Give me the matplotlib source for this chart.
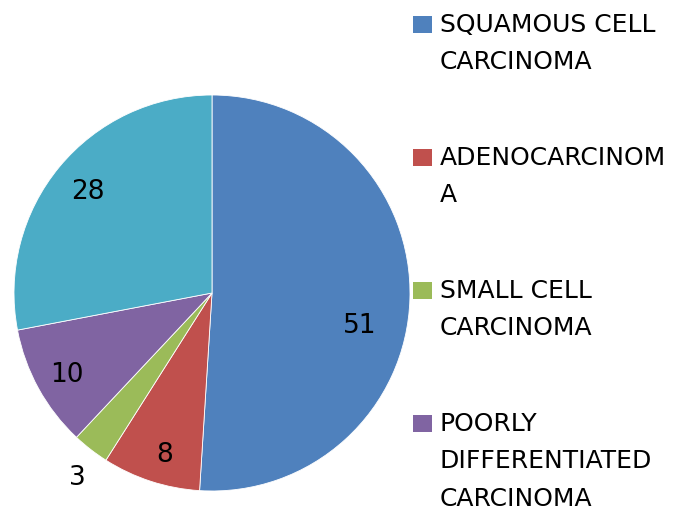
import matplotlib
matplotlib.use("Agg")
import matplotlib.pyplot as plt
from matplotlib.patches import Rectangle

categories = [
	"SQUAMOUS CELL\nCARCINOMA",
	"ADENOCARCINOM\nA",
	"SMALL CELL\nCARCINOMA",
	"POORLY\nDIFFERENTIATED\nCARCINOMA",
	"OTHERS",
]
values = [51, 8, 3, 10, 28]
colors = ["#4F81BD", "#C0504D", "#9BBB59", "#8064A2", "#4BACC6"]

# label positions (pie data coords, radius 1)
label_pos = [(0.747, -0.167), (-0.237, -0.818), (-0.682, -0.934), (-0.732, -0.414), (-0.626, 0.510)]

W, H = 683, 514
fig = plt.figure(figsize=(W / 100, H / 100), dpi=100)

cx, cy, r = 212, 293, 198
ax = fig.add_axes([(cx - r) / W, (H - cy - r) / H, 2 * r / W, 2 * r / H])
ax.pie(values, colors=colors, startangle=90, counterclock=False, radius=1,
	wedgeprops=dict(edgecolor="white", linewidth=0.6))
ax.set_xlim(-1, 1)
ax.set_ylim(-1, 1)
ax.set_aspect("equal")

for v, (x, y) in zip(values, label_pos):
	ax.text(x, y, str(v), ha="center", va="center", fontsize=19, color="black")

# legend, Excel style (last entry falls off the canvas)
y_first = 13  # pixel of top of first line
step = 133
for i, (lab, col) in enumerate(zip(categories[:4], colors[:4])):
	ytop = y_first + i * step
	fig.patches.append(Rectangle((413 / W, 1 - (ytop + 20) / H), 19 / W, 17 / H,
		transform=fig.transFigure, facecolor=col, edgecolor="none"))
	fig.text(440 / W, 1 - ytop / H, lab, ha="left", va="top", fontsize=18,
		linespacing=1.7, color="black")

fig.savefig("out.png", dpi=100)
